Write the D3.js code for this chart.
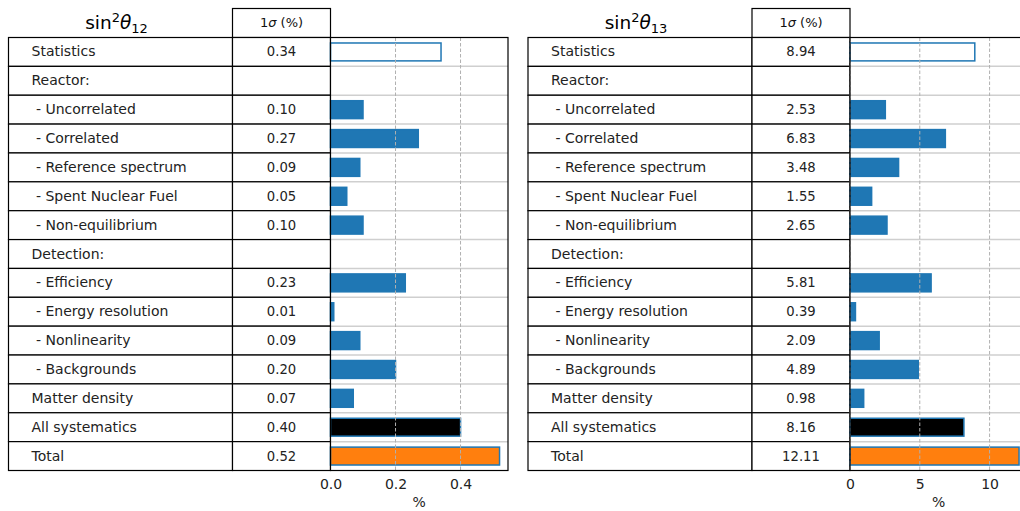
<!DOCTYPE html>
<html>
<head>
<meta charset="utf-8">
<script src="https://cdn.jsdelivr.net/npm/d3@7"></script>
<style>
  html, body { margin: 0; padding: 0; background: #fff; }
  svg { display: block; font-family: "DejaVu Sans", sans-serif; }
  text { white-space: pre; }
</style>
</head>
<body>
<svg id="chart" width="1020" height="511"></svg>
<script>
// ---- data ----
const rowLabels = ["Statistics", "Reactor:", " - Uncorrelated", " - Correlated", " - Reference spectrum",
  " - Spent Nuclear Fuel", " - Non-equilibrium", "Detection:", " - Efficiency", " - Energy resolution",
  " - Nonlinearity", " - Backgrounds", "Matter density", "All systematics", "Total"];
const valuesTheta12 = [0.34, null, 0.10, 0.27, 0.09, 0.05, 0.10, null, 0.23, 0.01, 0.09, 0.20, 0.07, 0.40, 0.52];
const valuesTheta13 = [8.94, null, 2.53, 6.83, 3.48, 1.55, 2.65, null, 5.81, 0.39, 2.09, 4.89, 0.98, 8.16, 12.11];
const ticksTheta12 = [0, 0.2, 0.4];
const ticksTheta13 = [0, 5, 10];
const titleSubs = ["12", "13"];
const headerText = "1σ (%)";
const axisLabel = "%";

const svg = d3.select("#chart");
const blue = "#1f77b4", orange = "#ff7f0e";

function drawPanel(dx, values, ticks, tickFmt, sub) {
  const g = svg.append("g").attr("transform", `translate(${dx},0)`);
  const tx0 = 8.5, tx1 = 232.5, ax0 = 330.5, ax1 = 508;
  const y0 = 37.5, y1 = 470.5;
  const y = d3.scaleBand().domain(d3.range(rowLabels.length)).range([y0, y1]).paddingInner(0).paddingOuter(0);
  const bw = y.bandwidth();
  const xmax = d3.max(values) * 1.05;
  const x = d3.scaleLinear().domain([0, xmax]).range([ax0, ax1]);

  // title
  const t = g.append("text").attr("x", (tx0 + tx1) / 2 - 4).attr("y", 29)
    .attr("text-anchor", "middle").attr("font-size", 18.5).attr("fill", "#000");
  t.append("tspan").text("sin");
  t.append("tspan").attr("font-size", 13).attr("dy", -7.5).text("2");
  t.append("tspan").attr("font-style", "italic").attr("dy", 7.5).text("θ");
  t.append("tspan").attr("font-size", 13).attr("dy", 4).text(sub);

  // header cell
  g.append("rect").attr("x", tx1).attr("y", 8.5).attr("width", ax0 - tx1).attr("height", y0 - 8.5)
    .attr("fill", "#fff").attr("stroke", "#000").attr("stroke-width", 1.2);
  const h = g.append("text").attr("x", (tx1 + ax0) / 2).attr("y", 27)
    .attr("text-anchor", "middle").attr("font-size", 13).attr("fill", "#111");
  h.append("tspan").text(headerText.slice(0, 1));
  h.append("tspan").attr("font-style", "italic").text(headerText.slice(1, 2));
  h.append("tspan").text(headerText.slice(2));

  // table cells
  const rows = g.selectAll("g.row").data(rowLabels).join("g").attr("class", "row");
  rows.append("rect").attr("x", tx0).attr("y", (d, i) => y(i)).attr("width", tx1 - tx0).attr("height", bw)
    .attr("fill", "#fff").attr("stroke", "#000").attr("stroke-width", 1.2);
  rows.append("rect").attr("x", tx1).attr("y", (d, i) => y(i)).attr("width", ax0 - tx1).attr("height", bw)
    .attr("fill", "#fff").attr("stroke", "#000").attr("stroke-width", 1.2);
  rows.append("text").attr("x", 31.5).attr("y", (d, i) => y(i) + bw / 2 + 4.5)
    .attr("font-size", 14).attr("fill", "#222").text(d => d);
  rows.append("text").attr("x", (tx1 + ax0) / 2).attr("y", (d, i) => y(i) + bw / 2 + 4.5)
    .attr("text-anchor", "middle").attr("font-size", 13.2).attr("fill", "#222")
    .text((d, i) => values[i] == null ? "" : values[i].toFixed(2));

  // plot area
  const p = g.append("g");
  p.append("rect").attr("x", ax0).attr("y", y0).attr("width", ax1 - ax0).attr("height", y1 - y0).attr("fill", "#fff");
  // horizontal row-boundary grid
  p.selectAll("line.hg").data(d3.range(1, rowLabels.length)).join("line").attr("class", "hg")
    .attr("x1", ax0).attr("x2", ax1).attr("y1", i => y(i)).attr("y2", i => y(i))
    .attr("stroke", "#cfcfcf").attr("stroke-width", 1.5);
  // bars
  const barData = values.map((v, i) => ({ v, i })).filter(d => d.v != null);
  const n = rowLabels.length;
  p.selectAll("rect.bar").data(barData).join("rect").attr("class", "bar")
    .attr("x", x(0)).attr("y", d => y(d.i) + bw * 0.19)
    .attr("width", d => x(d.v) - x(0)).attr("height", bw * 0.62)
    .attr("fill", d => d.i === 0 ? "#fff" : d.i === n - 1 ? orange : d.i === n - 2 ? "#000" : blue)
    .attr("stroke", blue).attr("stroke-width", 1.5);
  // vertical dashed grid
  p.selectAll("line.vg").data(ticks).join("line").attr("class", "vg")
    .attr("x1", d => x(d)).attr("x2", d => x(d)).attr("y1", y0).attr("y2", y1)
    .attr("stroke", "#b0b0b0").attr("stroke-width", 1).attr("stroke-dasharray", "3.5,2");
  // spines
  p.append("rect").attr("x", ax0).attr("y", y0).attr("width", ax1 - ax0).attr("height", y1 - y0)
    .attr("fill", "none").attr("stroke", "#000").attr("stroke-width", 1.2);

  // x axis
  const axis = d3.axisBottom(x).tickValues(ticks).tickFormat(tickFmt).tickSize(0).tickPadding(9);
  const ag = g.append("g").attr("transform", `translate(0,${y1})`).call(axis);
  ag.select(".domain").remove();
  ag.selectAll("text").attr("font-size", 14).attr("fill", "#222").attr("font-family", "DejaVu Sans, sans-serif");
  g.append("text").attr("x", (ax0 + ax1) / 2).attr("y", 507).attr("text-anchor", "middle")
    .attr("font-size", 14).attr("fill", "#222").text(axisLabel);
}

drawPanel(0, valuesTheta12, ticksTheta12, d3.format(".1f"), titleSubs[0]);
drawPanel(519.5, valuesTheta13, ticksTheta13, d3.format("d"), titleSubs[1]);
</script>
</body>
</html>
